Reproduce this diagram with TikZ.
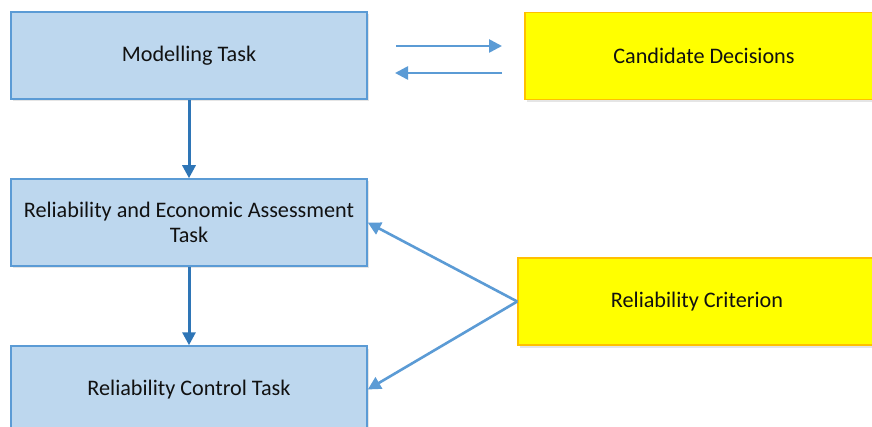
\documentclass[tikz,border=0pt]{standalone}
\usepackage{fontspec}
\setmainfont{Carlito}
\usetikzlibrary{arrows.meta,shadows}
\definecolor{taskfill}{HTML}{BDD7EE}
\definecolor{taskline}{HTML}{5B9BD5}
\definecolor{flowdark}{HTML}{2E75B6}
\definecolor{flowlight}{HTML}{5B9BD5}
\definecolor{inputfill}{HTML}{FFFF00}
\definecolor{inputline}{HTML}{FFC000}
\definecolor{labeltext}{HTML}{111111}
\begin{document}
\begin{tikzpicture}[x=1pt,y=-1pt,
  boxbase/.style={rectangle, minimum width=356pt, minimum height=87pt,
    line width=1.5pt, align=center, text=labeltext,
    font=\fontsize{22.2}{25}\selectfont,
    drop shadow={shadow xshift=1.5pt, shadow yshift=-2.5pt, opacity=0.1, fill=black}},
  taskbox/.style={boxbase, fill=taskfill, draw=taskline},
  inputbox/.style={boxbase, fill=inputfill, draw=inputline, minimum width=358pt},
  darkflow/.style={draw=flowdark, line width=3pt, -{Triangle[length=13pt,width=13pt]}},
  lightflow/.style={draw=flowlight, line width=2.6pt, -{Triangle[length=13pt,width=13pt]}}]
  \useasboundingbox (0,0) rectangle (872,427);
  \clip (0,0) rectangle (872,427);
  \fill[white] (0,0) rectangle (872,427);

  % task chain on the left
  \node[taskbox] (model) at (189,55.5) {Modelling Task};
  \node[taskbox] (assess) at (189,222.5) {Reliability and Economic Assessment\\Task};
  \node[taskbox] (control) at (189,389.5) {Reliability Control Task};

  % inputs on the right
  \node[inputbox] (cand) at (704,56) {Candidate Decisions};
  \node[inputbox] (crit) at (697,301.5) {Reliability Criterion};

  % exchange between the modelling task and the candidate decisions
  \coordinate (toA) at (396,46);
  \coordinate (toB) at (502,46);
  \coordinate (backA) at (502,73);
  \coordinate (backB) at (395,73);
  \draw[lightflow] (toA) -- (toB);
  \draw[lightflow] (backA) -- (backB);

  % main flow
  \draw[darkflow] (model) -- (assess);
  \draw[darkflow] (assess) -- (control);

  % criterion feeds both lower tasks
  \draw[lightflow] (crit.west) -- (assess.east);
  \draw[lightflow] (crit.west) -- (control.east);
\end{tikzpicture}
\end{document}
